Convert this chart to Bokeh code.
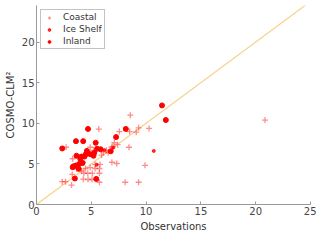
from bokeh.plotting import figure
from bokeh.models import Range1d, Legend, LegendItem
from bokeh.embed import file_html
from bokeh.resources import INLINE

coastal_x = [5.68, 2.7, 7.56, 9.32, 8.44, 8.5, 7.1, 6.97, 7.4, 6.38, 6.1, 4.9, 5.2, 5.94,
             6.88, 7.32, 9.9, 8.09, 9.32, 2.35, 2.65, 3.2, 3.26, 4.32, 4.68, 5.09, 5.74,
             4.26, 4.7, 5.06, 5.74, 5.35, 5.8, 5.74, 4.9, 4.47, 5.35, 4.1, 3.68, 3.3,
             6.53, 6.85, 8.56, 10.27, 9.1, 20.85]
coastal_y = [9.29, 7.05, 8.98, 9.44, 7.05, 8.98, 7.6, 7.13, 7.36, 6.67, 6.47, 7.05, 6.67, 6.09,
             5.2, 5.05, 4.82, 2.74, 2.74, 2.81, 2.81, 2.39, 3.7, 3.85, 3.85, 3.85, 3.85,
             3.12, 3.08, 3.08, 2.74, 4.93, 4.93, 4.43, 4.55, 4.43, 4.43, 4.12, 4.35, 5.63,
             6.36, 7.05, 11.0, 9.36, 8.9, 10.4]

iceshelf_x = [10.7, 5.0, 6.2, 4.3, 5.5, 7.0]
iceshelf_y = [6.6, 6.2, 6.7, 5.2, 4.9, 7.0]

inland_x = [4.7, 2.35, 3.6, 4.26, 5.4, 7.26, 8.15, 3.65, 4.6, 5.27, 5.53, 5.85, 6.77, 5.2,
            4.38, 4.0, 4.9, 3.9, 3.6, 3.38, 3.3, 3.85, 4.2, 3.5, 5.45, 4.5, 4.1, 11.45, 11.8]
inland_y = [9.3, 6.9, 7.8, 7.8, 7.6, 8.3, 9.3, 6.0, 6.6, 6.36, 6.86, 6.8, 6.55, 6.0,
            5.9, 5.6, 6.2, 5.0, 4.8, 4.7, 4.6, 4.4, 5.1, 3.2, 3.15, 6.2, 5.9, 12.2, 10.4]

diag = [0, 24.5]

p = figure(width=316, height=234, output_backend="svg", toolbar_location=None,
           x_range=Range1d(0, 25), y_range=Range1d(0, 24.5),
           min_border_left=36, min_border_right=6, min_border_top=5, min_border_bottom=10)
p.outline_line_color = None
p.xgrid.visible = False
p.ygrid.visible = False
p.background_fill_color = "white"

p.line(diag, diag, line_color="#F6D38E", line_width=1.2)

r_c = p.scatter(coastal_x, coastal_y, marker="cross", size=6, line_color="red",
                line_alpha=0.45, line_width=1.3)
r_i = p.scatter(iceshelf_x, iceshelf_y, marker="circle", size=3, fill_color="red",
                line_color="red", fill_alpha=0.8, line_alpha=0.8)
r_n = p.scatter(inland_x, inland_y, marker="circle", size=5, fill_color="red",
                line_color="red")

for ax in (p.xaxis[0], p.yaxis[0]):
    ax.axis_line_color = "#999999"
    ax.major_tick_line_color = "#999999"
    ax.major_tick_in = 3
    ax.major_tick_out = 0
    ax.minor_tick_line_color = None
    ax.major_label_text_font = "DejaVu Sans"
    ax.major_label_text_font_size = "10px"
    ax.major_label_text_color = "#444444"
    ax.axis_label_text_font = "DejaVu Sans"
    ax.axis_label_text_font_size = "10px"
    ax.axis_label_text_font_style = "normal"
    ax.axis_label_text_color = "#333333"
    ax.major_label_standoff = 2
    ax.axis_label_standoff = 3

p.xaxis.ticker = [0, 5, 10, 15, 20, 25]
p.yaxis.ticker = [0, 5, 10, 15, 20]
p.xaxis.axis_label = "Observations"
p.yaxis.axis_label = "COSMO-CLM²"

legend = Legend(items=[LegendItem(label="Coastal", renderers=[r_c]),
                       LegendItem(label="Ice Shelf", renderers=[r_i]),
                       LegendItem(label="Inland", renderers=[r_n])],
                location="top_left")
legend.label_text_font = "DejaVu Sans"
legend.label_text_font_size = "9px"
legend.label_text_color = "#333333"
legend.label_height = 7
legend.glyph_height = 7
legend.glyph_width = 12
legend.spacing = 2
legend.padding = 2
legend.margin = 4
legend.border_line_color = "#888888"
legend.label_standoff = 8
p.add_layout(legend)

open("out.html", "w").write(file_html(p, INLINE))
